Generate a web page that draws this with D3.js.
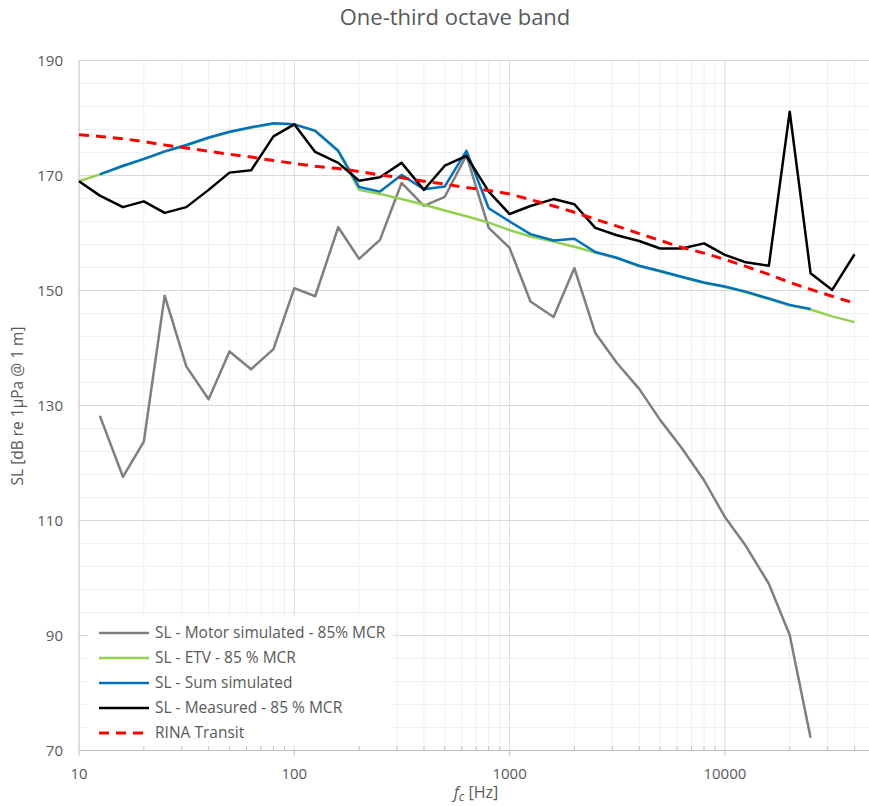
<!DOCTYPE html>
<html>
<head>
<meta charset="utf-8">
<script src="https://cdn.jsdelivr.net/npm/d3@7"></script>
<style>
  body { margin: 0; background: #fff; }
  svg { display: block; font-family: "Open Sans", "Noto Sans", sans-serif; }
</style>
</head>
<body>
<svg id="chart" width="869" height="806"></svg>
<script>
// one-third octave band centre frequencies [Hz]
const freqs = [10, 12.5, 16, 20, 25, 31.5, 40, 50, 63, 80, 100, 125, 160, 200, 250, 315, 400, 500, 630, 800,
  1000, 1250, 1600, 2000, 2500, 3150, 4000, 5000, 6300, 8000, 10000, 12500, 16000, 20000, 25000, 31500, 40000];

// SL values [dB re 1µPa @ 1 m], null where no value
const motorSim = [null, 128.2, 117.6, 123.7, 149.1, 136.8, 131.1, 139.4, 136.3, 139.8, 150.4, 149.0, 161.0, 155.5,
  158.8, 168.7, 164.7, 166.3, 173.5, 160.9, 157.4, 148.1, 145.4, 153.9, 142.6, 137.4, 132.9, 127.5, 122.6, 117.0,
  110.6, 105.6, 99.0, 90.1, 72.2, null, null];
const etv = [169.0, 170.2, 171.6, 172.8, 174.1, 175.2, 176.5, 177.5, 178.3, 179.0, 178.9, 177.7, 174.2, 167.5,
  166.8, 165.9, 164.9, 163.9, 162.9, 161.8, 160.5, 159.4, 158.5, 157.6, 156.6, 155.6, 154.2, 153.3, 152.3, 151.3,
  150.6, 149.7, 148.5, 147.4, 146.7, 145.5, 144.5];
const sumSim = [null, 170.2, 171.7, 172.9, 174.2, 175.3, 176.6, 177.6, 178.4, 179.1, 178.9, 177.8, 174.3, 168.0,
  167.2, 170.1, 167.6, 168.1, 174.3, 164.3, 162.0, 159.8, 158.7, 159.0, 156.7, 155.7, 154.3, 153.4, 152.4, 151.4,
  150.7, 149.8, 148.6, 147.5, 146.8, null, null];
const measured = [169.0, 166.5, 164.5, 165.5, 163.5, 164.5, 167.5, 170.5, 170.9, 176.8, 178.9, 174.1, 172.2, 169.1,
  169.7, 172.2, 167.5, 171.7, 173.4, 167.2, 163.3, 164.7, 165.9, 165.0, 160.9, 159.6, 158.6, 157.3, 157.3, 158.2,
  156.2, 154.9, 154.3, 181.1, 153.0, 150.1, 156.3];
const rina = [177.1, 176.8, 176.4, 175.9, 175.3, 174.8, 174.2, 173.7, 173.2, 172.6, 172.1, 171.6, 171.2, 170.7,
  170.1, 169.6, 169.0, 168.5, 167.9, 167.4, 166.8, 165.8, 164.7, 163.6, 162.4, 161.2, 159.9, 158.7, 157.5, 156.5,
  155.4, 154.2, 152.8, 151.4, 150.2, 149.0, 147.8];

const yTicks = [70, 90, 110, 130, 150, 170, 190];
const xTicks = [10, 100, 1000, 10000];

const series = [
  { name: "SL - Motor simulated - 85% MCR", values: motorSim, color: "#7f7f7f", dash: null, w: 2.5 },
  { name: "SL - ETV - 85 % MCR", values: etv, color: "#92d050", dash: null, w: 2.5 },
  { name: "SL - Sum simulated", values: sumSim, color: "#0070c0", dash: null, w: 2.5 },
  { name: "SL - Measured - 85 % MCR", values: measured, color: "#000000", dash: null, w: 2.5 },
  { name: "RINA Transit", values: rina, color: "#ff0000", dash: "10,7", w: 3 }
];

const svg = d3.select("#chart");
const plotLeft = 79, plotTop = 60.5, plotBottom = 750.5, plotRight = 869, decade = 215.3;

const x = d3.scaleLog().domain([10, 100000]).range([plotLeft, plotLeft + 4 * decade]);
const y = d3.scaleLinear().domain([70, 190]).range([plotBottom, plotTop]);

// minor grid
const minorX = [];
[10, 100, 1000, 10000].forEach(d => { for (let k = 2; k <= 9; k++) minorX.push(d * k); });
const minorY = d3.range(70, 191, 4).filter(v => !yTicks.includes(v));

const grid = svg.append("g");
grid.selectAll(".hmin").data(minorY).enter().append("line")
  .attr("x1", plotLeft).attr("x2", plotRight)
  .attr("y1", d => y(d)).attr("y2", d => y(d))
  .attr("stroke", "#efefef").attr("stroke-width", 1);
grid.selectAll(".vmin").data(minorX).enter().append("line")
  .attr("x1", d => x(d)).attr("x2", d => x(d))
  .attr("y1", plotTop).attr("y2", plotBottom)
  .attr("stroke", "#efefef").attr("stroke-width", 1);
grid.selectAll(".hmaj").data(yTicks).enter().append("line")
  .attr("x1", plotLeft).attr("x2", plotRight)
  .attr("y1", d => y(d)).attr("y2", d => y(d))
  .attr("stroke", "#d9d9d9").attr("stroke-width", 1);
grid.selectAll(".vmaj").data(xTicks.slice(1)).enter().append("line")
  .attr("x1", d => x(d)).attr("x2", d => x(d))
  .attr("y1", plotTop).attr("y2", plotBottom)
  .attr("stroke", "#d9d9d9").attr("stroke-width", 1);

// axes lines
svg.append("line").attr("x1", plotLeft).attr("x2", plotLeft).attr("y1", plotTop).attr("y2", plotBottom)
  .attr("stroke", "#bfbfbf");
svg.append("line").attr("x1", plotLeft).attr("x2", plotRight).attr("y1", plotBottom).attr("y2", plotBottom)
  .attr("stroke", "#bfbfbf");
svg.selectAll(".tmin").data(minorX).enter().append("line")
  .attr("x1", d => x(d)).attr("x2", d => x(d))
  .attr("y1", plotBottom - 4).attr("y2", plotBottom)
  .attr("stroke", "#bfbfbf");
svg.selectAll(".tmaj").data(xTicks).enter().append("line")
  .attr("x1", d => x(d)).attr("x2", d => x(d))
  .attr("y1", plotBottom).attr("y2", plotBottom + 5)
  .attr("stroke", "#bfbfbf");

// tick labels
svg.selectAll(".ylab").data(yTicks).enter().append("text")
  .attr("x", 63).attr("y", d => y(d)).attr("dy", "0.35em")
  .attr("text-anchor", "end").attr("fill", "#595959").attr("font-size", 15)
  .text(d => d);
svg.selectAll(".xlab").data(xTicks).enter().append("text")
  .attr("x", d => x(d)).attr("y", 779)
  .attr("text-anchor", "middle").attr("fill", "#595959").attr("font-size", 15)
  .text(d => d);

// lines
const line = d3.line()
  .defined(d => d.v != null)
  .x(d => x(d.f)).y(d => y(d.v));

svg.selectAll(".series").data(series).enter().append("path")
  .attr("fill", "none")
  .attr("stroke", d => d.color)
  .attr("stroke-width", d => d.w)
  .attr("stroke-dasharray", d => d.dash)
  .attr("stroke-linejoin", "round")
  .attr("d", d => line(freqs.map((f, i) => ({ f: f, v: d.values[i] }))));

// legend
const lg = svg.append("g");
lg.append("rect").attr("x", 88).attr("y", 617).attr("width", 305).attr("height", 129).attr("fill", "#fff");
const item = lg.selectAll(".item").data(series).enter().append("g")
  .attr("transform", (d, i) => `translate(99,${633 + i * 25})`);
item.append("line").attr("x1", 0).attr("x2", 50)
  .attr("stroke", d => d.color).attr("stroke-width", d => d.w)
  .attr("stroke-dasharray", d => d.dash);
item.append("text").attr("x", 56).attr("dy", "0.35em")
  .attr("fill", "#595959").attr("font-size", 15.5)
  .text(d => d.name);

// title and axis titles
svg.append("text").attr("x", 455).attr("y", 25).attr("text-anchor", "middle")
  .attr("fill", "#595959").attr("font-size", 22).text("One-third octave band");

svg.append("text").attr("transform", "translate(23,406) rotate(-90)")
  .attr("text-anchor", "middle").attr("fill", "#595959").attr("font-size", 15.5)
  .text("SL [dB re 1µPa @ 1 m]");

const xt = svg.append("text").attr("x", 476).attr("y", 798).attr("text-anchor", "middle")
  .attr("fill", "#595959").attr("font-size", 16);
xt.append("tspan").attr("font-style", "italic").text("f");
xt.append("tspan").attr("font-style", "italic").attr("font-size", 12).attr("dy", 3).text("c");
xt.append("tspan").attr("dy", -3).text(" [Hz]");
</script>
</body>
</html>
